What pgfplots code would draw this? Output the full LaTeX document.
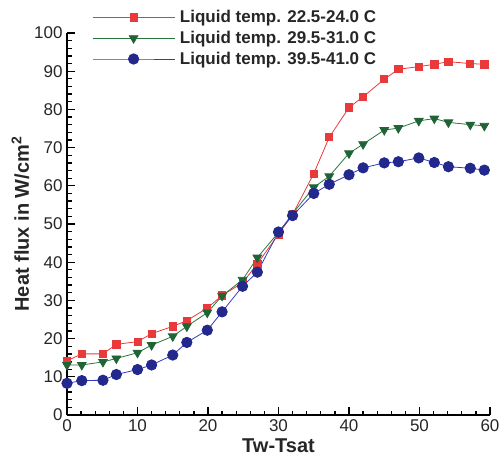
\documentclass[border=0pt]{standalone}
\usepackage{pgfplots}
\pgfplotsset{compat=1.18}
\usepackage{fontspec}
\setmainfont{Liberation Sans}

\definecolor{cred}{RGB}{232,58,58}
\definecolor{cgreen}{RGB}{38,118,62}
\definecolor{cblue}{RGB}{52,58,196}
\definecolor{cnavy}{RGB}{34,40,140}

\begin{document}
\begin{tikzpicture}
\begin{axis}[
    name=ax,
    scale only axis,
    width=423pt, height=382pt,
    xmin=0, xmax=60, ymin=0, ymax=100,
    axis lines=left,
    axis line style={-, line width=1.6pt},
    xtick distance=10, ytick distance=10,
    minor tick num=4,
    tick align=inside,
    major tick length=8pt, minor tick length=4.5pt,
    every tick/.style={black, line width=1.3pt},
    tick label style={font=\fontsize{17}{19}\selectfont, text=black!85},
    xticklabel style={yshift=-1pt},
    yticklabel style={xshift=-1pt},
    /pgf/number format/assume math mode=true,
    xlabel={\textbf{Tw-Tsat}},
    ylabel={\textbf{Heat flux in W/cm\textsuperscript{2}}},
    label style={text=black!85},
    xlabel style={font=\fontsize{20}{22}\selectfont, yshift=0pt},
    ylabel style={font=\fontsize{20}{22}\selectfont, yshift=-2pt},
    legend cell align=left,
    legend style={at={(0.052,1.07)}, anchor=north west, draw=none, fill=none,
        font=\fontsize{17}{19}\selectfont\bfseries, text=black!85,
        row sep=3pt, nodes={inner xsep=5pt}},
    legend image code/.code={
        \draw[mark repeat=2, mark phase=2] plot coordinates {(0pt,0pt) (41pt,0pt) (82pt,0pt)};
    },
]
\addplot[cred, line width=0.8pt, mark=square*, mark size=3.6pt,
    mark options={fill=cred, draw=cred}] coordinates {
    (0,14.2) (2.1,16.0) (5.1,16.0) (7,18.5) (10,19.2) (12,21.3) (15,23.2)
    (17,24.7) (19.9,28.0) (22,31.3) (24.9,34.6) (27,39.6) (30,47.3) (32,52.5)
    (35,63.2) (37.2,72.7) (40,80.5) (42,83.3) (45,87.9) (47,90.5) (49.9,91.2)
    (52.1,91.8) (54.1,92.5) (57.2,92.0) (59.2,91.8)
};
\addlegendentry{Liquid temp. 22.5-24.0 C}
\addplot[cgreen, line width=0.8pt, mark=triangle*, mark size=5pt,
    mark options={rotate=180, fill=cgreen!85!black, draw=cgreen!85!black}] coordinates {
    (0,13.1) (2.1,13.1) (5.1,13.9) (7,14.8) (10,16.3) (12,18.3) (15,20.6)
    (17,23.2) (19.9,26.8) (22,31.2) (24.9,35.4) (27,41.2) (30,47.8) (32,52.7)
    (35,59.6) (37.2,62.5) (40,68.5) (42,70.9) (45,74.6) (47,75.1) (49.9,77.0)
    (52.1,77.6) (54.1,76.6) (57.2,76.0) (59.2,75.7)
};
\addlegendentry{Liquid temp. 29.5-31.0 C}
\addplot[cblue, line width=0.8pt, mark=*, mark size=5.2pt,
    mark options={fill=cnavy, draw=cnavy}] coordinates {
    (0,8.3) (2.1,9.0) (5.1,9.1) (7,10.6) (10,11.9) (12,13.1) (15,15.7)
    (17,19.0) (19.9,22.2) (22,27.0) (24.9,33.7) (27,37.4) (30,47.9) (32,52.2)
    (35,58.0) (37.2,60.4) (40,62.9) (42,64.7) (45,66.0) (47,66.3) (49.9,67.3)
    (52.1,66.1) (54.1,65.0) (57.2,64.6) (59.2,64.1)
};
\addlegendentry{Liquid temp. 39.5-41.0 C}
\end{axis}
\pgfresetboundingbox
\path ([shift={(-67pt,-41pt)}]ax.south west) rectangle ([shift={(9pt,33pt)}]ax.north east);
\end{tikzpicture}
\end{document}
